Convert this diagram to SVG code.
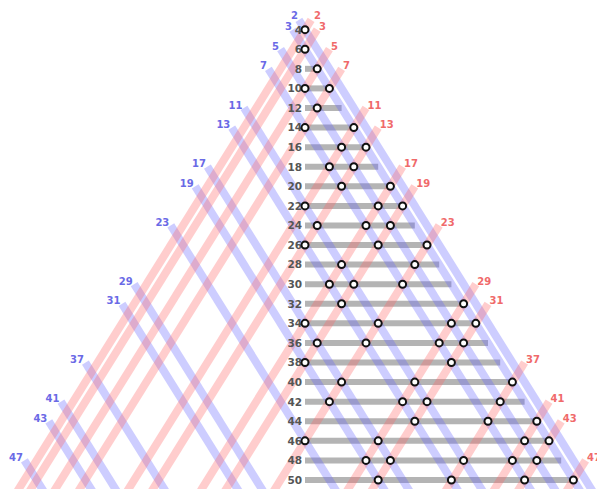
<svg xmlns="http://www.w3.org/2000/svg" width="597" height="489" viewBox="0 0 597 489">
<style>
.bar{stroke:#b4b4b4;stroke-width:6;stroke-linecap:butt}
.bl{stroke:#6464ff;stroke-opacity:0.32;stroke-width:8;fill:none}
.rl{stroke:#ff6464;stroke-opacity:0.32;stroke-width:8;fill:none}
.pt{fill:#fff;stroke:#111;stroke-width:2}
.num{font-family:"DejaVu Sans",sans-serif;font-weight:bold;font-size:10.5px;fill:#555;text-anchor:end}
.bt{font-family:"DejaVu Sans",sans-serif;font-weight:bold;font-size:10px;fill:#6a6ae6;text-anchor:end}
.rt{font-family:"DejaVu Sans",sans-serif;font-weight:bold;font-size:10px;fill:#f06a6a;text-anchor:start}
</style>
<rect width="597" height="489" fill="#fff"/>
<g id="bars">
<line class="bar" x1="305" y1="68.82" x2="317.2" y2="68.82"/>
<line class="bar" x1="305" y1="88.4" x2="329.4" y2="88.4"/>
<line class="bar" x1="305" y1="107.98" x2="341.6" y2="107.98"/>
<line class="bar" x1="305" y1="127.56" x2="353.8" y2="127.56"/>
<line class="bar" x1="305" y1="147.14" x2="366" y2="147.14"/>
<line class="bar" x1="305" y1="166.72" x2="378.2" y2="166.72"/>
<line class="bar" x1="305" y1="186.3" x2="390.4" y2="186.3"/>
<line class="bar" x1="305" y1="205.88" x2="402.6" y2="205.88"/>
<line class="bar" x1="305" y1="225.46" x2="414.8" y2="225.46"/>
<line class="bar" x1="305" y1="245.04" x2="427" y2="245.04"/>
<line class="bar" x1="305" y1="264.62" x2="439.2" y2="264.62"/>
<line class="bar" x1="305" y1="284.2" x2="451.4" y2="284.2"/>
<line class="bar" x1="305" y1="303.78" x2="463.6" y2="303.78"/>
<line class="bar" x1="305" y1="323.36" x2="475.8" y2="323.36"/>
<line class="bar" x1="305" y1="342.94" x2="488" y2="342.94"/>
<line class="bar" x1="305" y1="362.52" x2="500.2" y2="362.52"/>
<line class="bar" x1="305" y1="382.1" x2="512.4" y2="382.1"/>
<line class="bar" x1="305" y1="401.68" x2="524.6" y2="401.68"/>
<line class="bar" x1="305" y1="421.26" x2="536.8" y2="421.26"/>
<line class="bar" x1="305" y1="440.84" x2="549" y2="440.84"/>
<line class="bar" x1="305" y1="460.42" x2="561.2" y2="460.42"/>
<line class="bar" x1="305" y1="480" x2="573.4" y2="480"/>
</g>
<g id="connectors">
<line class="bl" x1="298.9" y1="19.87" x2="598.1" y2="500"/>
<line class="bl" x1="292.8" y1="29.66" x2="585.9" y2="500"/>
<line class="bl" x1="280.6" y1="49.24" x2="561.5" y2="500"/>
<line class="bl" x1="268.4" y1="68.82" x2="537.1" y2="500"/>
<line class="bl" x1="244" y1="107.98" x2="488.3" y2="500"/>
<line class="bl" x1="231.8" y1="127.56" x2="463.9" y2="500"/>
<line class="bl" x1="207.4" y1="166.72" x2="415.1" y2="500"/>
<line class="bl" x1="195.2" y1="186.3" x2="390.7" y2="500"/>
<line class="bl" x1="170.8" y1="225.46" x2="341.9" y2="500"/>
<line class="bl" x1="134.2" y1="284.2" x2="268.7" y2="500"/>
<line class="bl" x1="122" y1="303.78" x2="244.3" y2="500"/>
<line class="bl" x1="85.4" y1="362.52" x2="171.1" y2="500"/>
<line class="bl" x1="61" y1="401.68" x2="122.3" y2="500"/>
<line class="bl" x1="48.8" y1="421.26" x2="97.9" y2="500"/>
<line class="bl" x1="24.4" y1="460.42" x2="49.1" y2="500"/>
<line class="rl" x1="311.1" y1="19.87" x2="11.9" y2="500"/>
<line class="rl" x1="317.2" y1="29.66" x2="24.1" y2="500"/>
<line class="rl" x1="329.4" y1="49.24" x2="48.5" y2="500"/>
<line class="rl" x1="341.6" y1="68.82" x2="72.9" y2="500"/>
<line class="rl" x1="366" y1="107.98" x2="121.7" y2="500"/>
<line class="rl" x1="378.2" y1="127.56" x2="146.1" y2="500"/>
<line class="rl" x1="402.6" y1="166.72" x2="194.9" y2="500"/>
<line class="rl" x1="414.8" y1="186.3" x2="219.3" y2="500"/>
<line class="rl" x1="439.2" y1="225.46" x2="268.1" y2="500"/>
<line class="rl" x1="475.8" y1="284.2" x2="341.3" y2="500"/>
<line class="rl" x1="488" y1="303.78" x2="365.7" y2="500"/>
<line class="rl" x1="524.6" y1="362.52" x2="439.9" y2="500"/>
<line class="rl" x1="549" y1="401.68" x2="487.7" y2="500"/>
<line class="rl" x1="561.2" y1="421.26" x2="512.1" y2="500"/>
<line class="rl" x1="585.6" y1="460.42" x2="560.9" y2="500"/>
</g>
<g id="prime-labels">
<text class="bt" x="298" y="19">2</text>
<text class="bt" x="292" y="30">3</text>
<text class="bt" x="279" y="49.5">5</text>
<text class="bt" x="267" y="69">7</text>
<text class="bt" x="242.5" y="108.5">11</text>
<text class="bt" x="230.3" y="128">13</text>
<text class="bt" x="205.9" y="167">17</text>
<text class="bt" x="193.7" y="186.7">19</text>
<text class="bt" x="169.3" y="226">23</text>
<text class="bt" x="132.7" y="284.7">29</text>
<text class="bt" x="120.5" y="304.2">31</text>
<text class="bt" x="83.9" y="363">37</text>
<text class="bt" x="59.5" y="402">41</text>
<text class="bt" x="47.3" y="421.7">43</text>
<text class="bt" x="22.9" y="461">47</text>
<text class="rt" x="314" y="19">2</text>
<text class="rt" x="319" y="30">3</text>
<text class="rt" x="331" y="49.5">5</text>
<text class="rt" x="343.1" y="69">7</text>
<text class="rt" x="367.5" y="108.5">11</text>
<text class="rt" x="379.7" y="128">13</text>
<text class="rt" x="404.1" y="167">17</text>
<text class="rt" x="416.3" y="186.7">19</text>
<text class="rt" x="440.7" y="226">23</text>
<text class="rt" x="477.3" y="284.7">29</text>
<text class="rt" x="489.5" y="304.2">31</text>
<text class="rt" x="526.1" y="363">37</text>
<text class="rt" x="550.5" y="402">41</text>
<text class="rt" x="562.7" y="421.7">43</text>
<text class="rt" x="587.1" y="461">47</text>
</g>
<g id="n4"><text class="num" x="302" y="33.5">4</text><circle class="pt" cx="305" cy="29.66" r="3.5"/></g>
<g id="n6"><text class="num" x="302" y="53">6</text><circle class="pt" cx="305" cy="49.24" r="3.5"/></g>
<g id="n8"><text class="num" x="302" y="72.6">8</text><circle class="pt" cx="317.2" cy="68.82" r="3.5"/></g>
<g id="n10"><text class="num" x="302" y="92.2">10</text><circle class="pt" cx="305" cy="88.4" r="3.5"/><circle class="pt" cx="329.4" cy="88.4" r="3.5"/></g>
<g id="n12"><text class="num" x="302" y="111.8">12</text><circle class="pt" cx="317.2" cy="107.98" r="3.5"/></g>
<g id="n14"><text class="num" x="302" y="131.4">14</text><circle class="pt" cx="305" cy="127.56" r="3.5"/><circle class="pt" cx="353.8" cy="127.56" r="3.5"/></g>
<g id="n16"><text class="num" x="302" y="151">16</text><circle class="pt" cx="341.6" cy="147.14" r="3.5"/><circle class="pt" cx="366" cy="147.14" r="3.5"/></g>
<g id="n18"><text class="num" x="302" y="170.5">18</text><circle class="pt" cx="329.4" cy="166.72" r="3.5"/><circle class="pt" cx="353.8" cy="166.72" r="3.5"/></g>
<g id="n20"><text class="num" x="302" y="190.1">20</text><circle class="pt" cx="341.6" cy="186.3" r="3.5"/><circle class="pt" cx="390.4" cy="186.3" r="3.5"/></g>
<g id="n22"><text class="num" x="302" y="209.7">22</text><circle class="pt" cx="305" cy="205.88" r="3.5"/><circle class="pt" cx="378.2" cy="205.88" r="3.5"/><circle class="pt" cx="402.6" cy="205.88" r="3.5"/></g>
<g id="n24"><text class="num" x="302" y="229.3">24</text><circle class="pt" cx="317.2" cy="225.46" r="3.5"/><circle class="pt" cx="366" cy="225.46" r="3.5"/><circle class="pt" cx="390.4" cy="225.46" r="3.5"/></g>
<g id="n26"><text class="num" x="302" y="248.8">26</text><circle class="pt" cx="305" cy="245.04" r="3.5"/><circle class="pt" cx="378.2" cy="245.04" r="3.5"/><circle class="pt" cx="427" cy="245.04" r="3.5"/></g>
<g id="n28"><text class="num" x="302" y="268.4">28</text><circle class="pt" cx="341.6" cy="264.62" r="3.5"/><circle class="pt" cx="414.8" cy="264.62" r="3.5"/></g>
<g id="n30"><text class="num" x="302" y="288">30</text><circle class="pt" cx="329.4" cy="284.2" r="3.5"/><circle class="pt" cx="353.8" cy="284.2" r="3.5"/><circle class="pt" cx="402.6" cy="284.2" r="3.5"/></g>
<g id="n32"><text class="num" x="302" y="307.6">32</text><circle class="pt" cx="341.6" cy="303.78" r="3.5"/><circle class="pt" cx="463.6" cy="303.78" r="3.5"/></g>
<g id="n34"><text class="num" x="302" y="327.2">34</text><circle class="pt" cx="305" cy="323.36" r="3.5"/><circle class="pt" cx="378.2" cy="323.36" r="3.5"/><circle class="pt" cx="451.4" cy="323.36" r="3.5"/><circle class="pt" cx="475.8" cy="323.36" r="3.5"/></g>
<g id="n36"><text class="num" x="302" y="346.7">36</text><circle class="pt" cx="317.2" cy="342.94" r="3.5"/><circle class="pt" cx="366" cy="342.94" r="3.5"/><circle class="pt" cx="439.2" cy="342.94" r="3.5"/><circle class="pt" cx="463.6" cy="342.94" r="3.5"/></g>
<g id="n38"><text class="num" x="302" y="366.3">38</text><circle class="pt" cx="305" cy="362.52" r="3.5"/><circle class="pt" cx="451.4" cy="362.52" r="3.5"/></g>
<g id="n40"><text class="num" x="302" y="385.9">40</text><circle class="pt" cx="341.6" cy="382.1" r="3.5"/><circle class="pt" cx="414.8" cy="382.1" r="3.5"/><circle class="pt" cx="512.4" cy="382.1" r="3.5"/></g>
<g id="n42"><text class="num" x="302" y="405.5">42</text><circle class="pt" cx="329.4" cy="401.68" r="3.5"/><circle class="pt" cx="402.6" cy="401.68" r="3.5"/><circle class="pt" cx="427" cy="401.68" r="3.5"/><circle class="pt" cx="500.2" cy="401.68" r="3.5"/></g>
<g id="n44"><text class="num" x="302" y="425.1">44</text><circle class="pt" cx="414.8" cy="421.26" r="3.5"/><circle class="pt" cx="488" cy="421.26" r="3.5"/><circle class="pt" cx="536.8" cy="421.26" r="3.5"/></g>
<g id="n46"><text class="num" x="302" y="444.6">46</text><circle class="pt" cx="305" cy="440.84" r="3.5"/><circle class="pt" cx="378.2" cy="440.84" r="3.5"/><circle class="pt" cx="524.6" cy="440.84" r="3.5"/><circle class="pt" cx="549" cy="440.84" r="3.5"/></g>
<g id="n48"><text class="num" x="302" y="464.2">48</text><circle class="pt" cx="366" cy="460.42" r="3.5"/><circle class="pt" cx="390.4" cy="460.42" r="3.5"/><circle class="pt" cx="463.6" cy="460.42" r="3.5"/><circle class="pt" cx="512.4" cy="460.42" r="3.5"/><circle class="pt" cx="536.8" cy="460.42" r="3.5"/></g>
<g id="n50"><text class="num" x="302" y="483.8">50</text><circle class="pt" cx="378.2" cy="480" r="3.5"/><circle class="pt" cx="451.4" cy="480" r="3.5"/><circle class="pt" cx="524.6" cy="480" r="3.5"/><circle class="pt" cx="573.4" cy="480" r="3.5"/></g>
</svg>
